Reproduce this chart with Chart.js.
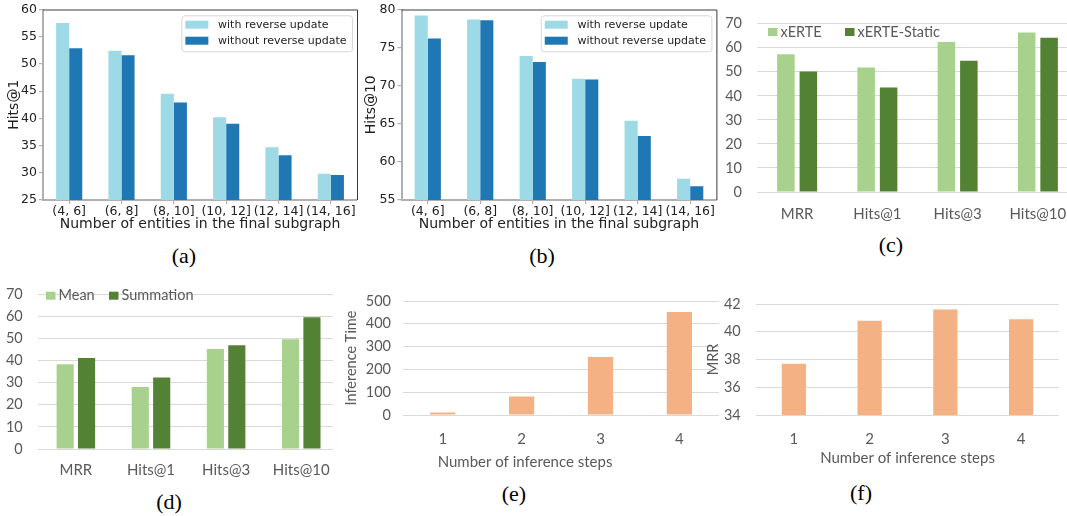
<!DOCTYPE html>
<html>
<head>
<meta charset="utf-8">
<script src="https://cdn.jsdelivr.net/npm/chart.js@4.4.0/dist/chart.umd.min.js"></script>
<style>
  body { margin: 0; background: #fff; }
  #page { position: relative; width: 1067px; height: 516px; overflow: hidden; }
  canvas { position: absolute; }
  .cap { position: absolute; width: 60px; text-align: center; font-family: "Liberation Serif", serif; font-size: 22px; line-height: 22px; color: #000; }
</style>
</head>
<body>
<div id="page">
  <canvas id="cA" width="360" height="233" style="left:0px;top:0px"></canvas>
  <canvas id="cB" width="360" height="233" style="left:360px;top:0px"></canvas>
  <canvas id="cC" width="360" height="228" style="left:720px;top:0px"></canvas>
  <canvas id="cD" width="339" height="215" style="left:0px;top:270px;clip-path:inset(0 6px 0 0)"></canvas>
  <canvas id="cE" width="385" height="195" style="left:335px;top:280px"></canvas>
  <canvas id="cF" width="367" height="195" style="left:700px;top:280px"></canvas>
  <div class="cap" style="left:154px;top:245px">(a)</div>
  <div class="cap" style="left:512px;top:245px">(b)</div>
  <div class="cap" style="left:861px;top:234px">(c)</div>
  <div class="cap" style="left:139px;top:491px">(d)</div>
  <div class="cap" style="left:484px;top:483px">(e)</div>
  <div class="cap" style="left:831px;top:482px">(f)</div>
</div>
<script>
// data
const subgraphBins = ['(4, 6]', '(6, 8]', '(8, 10]', '(10, 12]', '(12, 14]', '(14, 16]'];
const hits1With = [57.5, 52.4, 44.5, 40.2, 34.7, 29.8];
const hits1Without = [52.9, 51.6, 42.9, 39.0, 33.2, 29.6];
const hits10With = [79.2, 78.7, 73.9, 70.9, 65.4, 57.8];
const hits10Without = [76.2, 78.6, 73.1, 70.8, 63.4, 56.8];

const metrics = ['MRR', 'Hits@1', 'Hits@3', 'Hits@10'];
const xerte = [57.3, 51.8, 62.4, 66.3];
const xerteStatic = [50.1, 43.5, 54.6, 64.2];
const meanAgg = [38.3, 28.1, 45.2, 49.7];
const sumAgg = [41.2, 32.3, 47.0, 59.6];

const steps = ['1', '2', '3', '4'];
const inferTime = [11, 81, 254, 452];
const stepMRR = [37.7, 40.8, 41.6, 40.9];

const lightBlue = '#9edae5', darkBlue = '#1f77b4';
const lightGreen = '#a9d18e', darkGreen = '#548235';
const orange = '#f4b183';
const xlGrey = '#595959';

// top + right spines for the matplotlib panels
const frame = {
	id: 'frame',
	afterDraw(chart) {
		const ctx = chart.ctx, a = chart.chartArea;
		ctx.save();
		ctx.strokeStyle = '#3a3a3a';
		ctx.lineWidth = 1;
		ctx.beginPath();
		ctx.moveTo(a.left, a.top + 0.5);
		ctx.lineTo(a.right + 0.5, a.top + 0.5);
		ctx.lineTo(a.right + 0.5, a.bottom);
		ctx.stroke();
		ctx.restore();
	}
};

// legend drawn inside the plot
const boxLegend = {
	id: 'boxLegend',
	afterDraw(chart, args, opts) {
		if (!opts || !opts.style) return;
		const ctx = chart.ctx, a = chart.chartArea;
		const sets = chart.data.datasets;
		ctx.save();
		ctx.font = opts.font;
		ctx.textBaseline = 'middle';
		if (opts.style == 'mpl') {
			let textW = Math.max(...sets.map(d => ctx.measureText(d.label).width));
			let w = 36.7 + textW + 5.5, h = 36;
			let x = a.right - 5 - w, y = a.top + 5.8;
			ctx.fillStyle = 'rgba(255,255,255,0.8)';
			ctx.strokeStyle = '#d8d8d8';
			ctx.lineWidth = 1;
			ctx.beginPath();
			ctx.roundRect(x + 0.5, y + 0.5, w, h, 3);
			ctx.fill();
			ctx.stroke();
			sets.forEach((d, i) => {
				let cy = y + 9.4 + i * 16;
				ctx.fillStyle = d.backgroundColor;
				ctx.fillRect(x + 4, cy - 4, 23, 8);
				ctx.fillStyle = opts.color;
				ctx.fillText(d.label, x + 36.7, cy);
			});
		} else {
			sets.forEach((d, i) => {
				let px = opts.xs[i];
				ctx.fillStyle = d.backgroundColor;
				ctx.fillRect(px, opts.y - 4, 9.5, 8);
				ctx.fillStyle = opts.color;
				ctx.fillText(d.label, px + 12.5, opts.y);
			});
		}
		ctx.restore();
	}
};

// axis title that is not centred on the axis (panel e)
const freeTitle = {
	id: 'freeTitle',
	afterDraw(chart, args, opts) {
		if (!opts || !opts.text) return;
		const ctx = chart.ctx;
		ctx.save();
		ctx.font = opts.font;
		ctx.fillStyle = opts.color;
		ctx.textAlign = 'center';
		ctx.textBaseline = 'middle';
		ctx.fillText(opts.text, opts.x, opts.y);
		ctx.restore();
	}
};

function makeChart(id, area, cfg) {
	const cv = document.getElementById(id);
	const W = cv.width, H = cv.height;
	cfg.x.afterFit = s => { s.height = H - area.b; };
	cfg.y.afterFit = s => { s.width = area.l; };
	return new Chart(cv, {
		type: 'bar',
		data: { labels: cfg.labels, datasets: cfg.datasets },
		options: {
			responsive: false,
			animation: false,
			devicePixelRatio: 1,
			layout: { padding: { left: 0, top: area.t, right: W - area.r, bottom: 0 } },
			plugins: {
				legend: { display: false },
				tooltip: { enabled: false },
				boxLegend: cfg.legend || {},
				freeTitle: cfg.freeTitle || {}
			},
			scales: { x: cfg.x, y: cfg.y }
		},
		plugins: cfg.mpl ? [frame, boxLegend] : [boxLegend, freeTitle]
	});
}

// matplotlib style axes
function mplX() {
	return {
		grid: { drawOnChartArea: false, offset: false, drawTicks: true, tickLength: 4, color: '#b0b0b0', lineWidth: 1.2 },
		border: { color: '#b0b0b0', width: 2 },
		ticks: { font: { family: 'DejaVu Sans', size: 12.5 }, color: '#222', padding: 0, maxRotation: 0, autoSkip: false },
		title: { display: true, text: 'Number of entities in the final subgraph', font: { family: 'DejaVu Sans', size: 14 }, color: '#222', padding: { top: 0, bottom: 0 } }
	};
}
function mplY(min, max, label, titlePad) {
	return {
		min: min, max: max,
		grid: { drawOnChartArea: false, drawTicks: true, tickLength: 4, color: '#b0b0b0', lineWidth: 1.2 },
		border: { color: '#b0b0b0', width: 2 },
		ticks: { stepSize: 5, font: { family: 'DejaVu Sans', size: 12.5 }, color: '#222', padding: 2 },
		title: { display: true, text: label, font: { family: 'DejaVu Sans', size: 14 }, color: '#222', padding: { top: titlePad, bottom: 0 } }
	};
}
function mplSets(a, b) {
	return [
		{ label: 'with reverse update', data: a, backgroundColor: lightBlue, categoryPercentage: 0.5, barPercentage: 1.0 },
		{ label: 'without reverse update', data: b, backgroundColor: darkBlue, categoryPercentage: 0.5, barPercentage: 1.0 }
	];
}
const mplLegend = { style: 'mpl', font: '11px "DejaVu Sans"', color: '#222' };

// excel style axes
function xlX(pad, title, titlePad) {
	let x = {
		grid: { display: false },
		border: { display: false },
		ticks: { font: { family: 'Lato', size: 15 }, color: xlGrey, padding: pad, maxRotation: 0, autoSkip: false }
	};
	if (title)
		x.title = { display: true, text: title, font: { family: 'Lato', size: 15 }, color: xlGrey, padding: { top: 0, bottom: titlePad } };
	return x;
}
function xlY(min, max, step, pad, title, titlePad) {
	let y = {
		min: min, max: max,
		grid: { color: '#d9d9d9', lineWidth: 1, drawTicks: false },
		border: { display: false },
		ticks: { stepSize: step, font: { family: 'Lato', size: 14.5 }, color: xlGrey, padding: pad }
	};
	if (title)
		y.title = { display: true, text: title, font: { family: 'Lato', size: 14.5 }, color: xlGrey, padding: { top: titlePad, bottom: 0 } };
	return y;
}

// (a)
makeChart('cA', { l: 43, t: 7.5, r: 357, b: 200 }, {
	mpl: true,
	labels: subgraphBins,
	datasets: mplSets(hits1With, hits1Without),
	legend: mplLegend,
	x: mplX(),
	y: mplY(25, 60, 'Hits@1', 5.8)
});

// (b)
makeChart('cB', { l: 41.5, t: 8.3, r: 356.4, b: 200 }, {
	mpl: true,
	labels: subgraphBins,
	datasets: mplSets(hits10With, hits10Without),
	legend: mplLegend,
	x: mplX(),
	y: mplY(55, 80, 'Hits@10', 2.8)
});

// (c)  plot runs past the right edge of the figure
makeChart('cC', { l: 37, t: 22.7, r: 358, b: 192 }, {
	labels: metrics,
	datasets: [
		{ label: 'xERTE', data: xerte, backgroundColor: lightGreen, categoryPercentage: 0.56, barPercentage: 0.78 },
		{ label: 'xERTE-Static', data: xerteStatic, backgroundColor: darkGreen, categoryPercentage: 0.56, barPercentage: 0.78 }
	],
	legend: { style: 'xl', font: '14.5px Lato', color: xlGrey, xs: [48, 125], y: 32 },
	x: xlX(5),
	y: xlY(0, 70, 10, 15)
});

// (d)
makeChart('cD', { l: 38.3, t: 14.3, r: 338.8, b: 179 }, {
	labels: metrics,
	datasets: [
		{ label: 'Mean', data: meanAgg, backgroundColor: lightGreen, categoryPercentage: 0.57, barPercentage: 0.8 },
		{ label: 'Summation', data: sumAgg, backgroundColor: darkGreen, categoryPercentage: 0.57, barPercentage: 0.8 }
	],
	legend: { style: 'xl', font: '14.5px Lato', color: xlGrey, xs: [46, 109], y: 25.7 },
	x: xlX(4),
	y: xlY(0, 70, 10, 15.6)
});

// (e)
makeChart('cE', { l: 68.3, t: 11, r: 383.8, b: 135 }, {
	labels: steps,
	datasets: [
		{ label: 'Inference Time', data: inferTime, backgroundColor: orange, categoryPercentage: 0.32, barPercentage: 1.0 }
	],
	freeTitle: { text: 'Number of inference steps', font: '15px Lato', color: xlGrey, x: 190, y: 181.7 },
	x: xlX(7.5),
	y: xlY(0, 500, 100, 12.3, 'Inference Time', 7.3)
});

// (f)
makeChart('cF', { l: 56, t: 12.3, r: 359, b: 135 }, {
	labels: steps,
	datasets: [
		{ label: 'MRR', data: stepMRR, backgroundColor: orange, categoryPercentage: 0.32, barPercentage: 1.0 }
	],
	x: xlX(7, 'Number of inference steps', 7.7),
	y: xlY(34, 42, 2, 15.3, 'MRR', 4.6)
});
</script>
</body>
</html>
